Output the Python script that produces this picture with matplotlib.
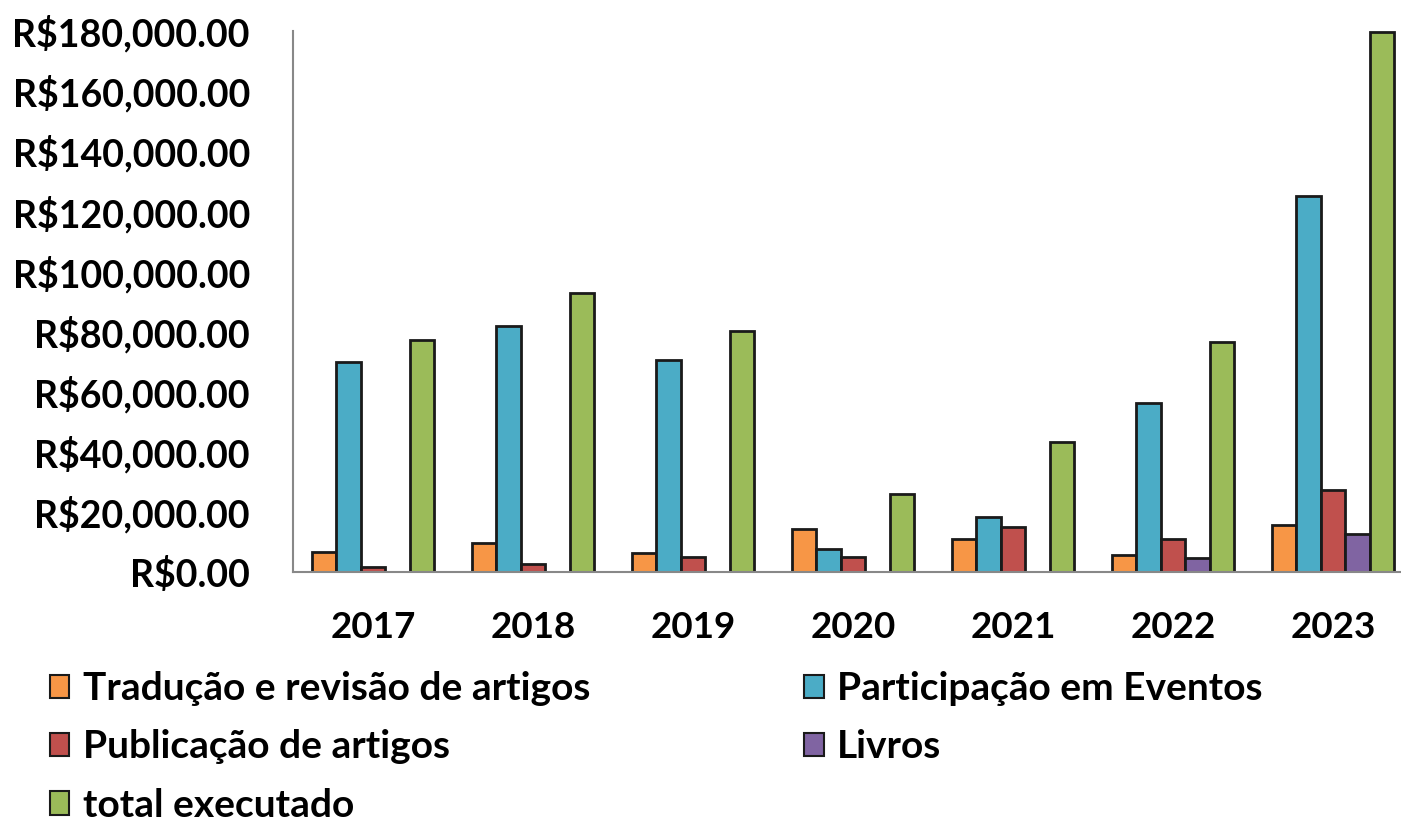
import matplotlib.pyplot as plt
import numpy as np
from matplotlib.ticker import FuncFormatter

anos = ['2017', '2018', '2019', '2020', '2021', '2022', '2023']
traducao = [6500, 9500, 6200, 14300, 10900, 5600, 15500]
participacao = [70000, 81800, 70500, 7500, 18200, 56300, 125000]
publicacao = [1500, 2600, 4900, 4900, 15100, 10900, 27300]
livros = [0, 0, 0, 0, 0, 4800, 12700]
total = [77200, 92800, 80200, 25800, 43400, 76600, 179600]

series = [
    ('Tradução e revisão de artigos', traducao, '#F79646'),
    ('Participação em Eventos', participacao, '#4BACC6'),
    ('Publicação de artigos', publicacao, '#C0504D'),
    ('Livros', livros, '#8064A2'),
    ('total executado', total, '#9BBB59'),
]

plt.rcParams['font.family'] = ['Lato', 'DejaVu Sans']
plt.rcParams['font.weight'] = 'bold'

fig = plt.figure(figsize=(14.01, 8.25), dpi=100)
# eixo passa um pouco da borda direita, como no original
ax = fig.add_axes([293/1401, 253/825, 1120/1401, 541/825])

x = np.arange(len(anos))
w = 0.153
barras = {}
for i, (nome, vals, cor) in enumerate(series):
    b = ax.bar(x + (i - 2) * w, vals, w, color=cor, edgecolor='#1a1a1a',
               linewidth=2, label=nome)
    barras[nome] = b

ax.set_xlim(-0.5, len(anos) - 0.5)
ax.set_ylim(0, 180000)
ax.set_yticks(range(0, 180001, 20000))
ax.yaxis.set_major_formatter(FuncFormatter(lambda v, p: 'R${:,.2f}'.format(v)))
ax.set_xticks(x)
ax.set_xticklabels(anos)
ax.tick_params(axis='y', length=0, pad=31, labelsize=27)
ax.tick_params(axis='x', length=0, pad=28, labelsize=26.5)

for s in ['top', 'right']:
    ax.spines[s].set_visible(False)
ax.spines['left'].set_color('#888888')
ax.spines['bottom'].set_color('#888888')
ax.spines['left'].set_linewidth(1.5)
ax.spines['bottom'].set_linewidth(1.5)

ordem = ['Tradução e revisão de artigos', 'Publicação de artigos', 'total executado',
         'Participação em Eventos', 'Livros']
leg = fig.legend([barras[n] for n in ordem], ordem, ncol=2, loc='upper left',
                 bbox_to_anchor=(50/1401, 1 - 671/825), frameon=False,
                 fontsize=28, handlelength=0.5, handleheight=0.55,
                 handletextpad=0.35, columnspacing=5.5, labelspacing=0.6,
                 borderaxespad=0, borderpad=0)
for h in leg.legend_handles:
    h.set_linewidth(1.5)

fig.savefig('out.png', dpi=100)
